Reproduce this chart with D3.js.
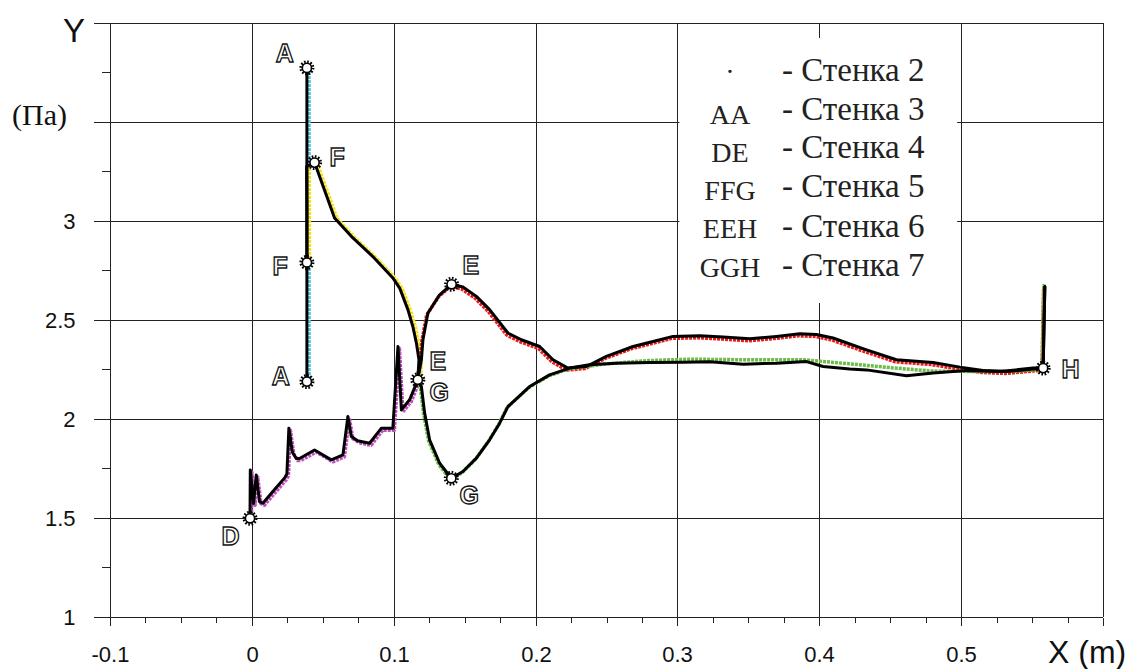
<!DOCTYPE html>
<html>
<head>
<meta charset="utf-8">
<script src="https://cdn.jsdelivr.net/npm/d3@7"></script>
<style>
  body { margin: 0; background: #fff; }
  svg { display: block; }
</style>
</head>
<body>
<svg id="chart" width="1128" height="669"></svg>
<script>
// ---- Axis ticks and labels ----
const xTicks = [-0.1, 0, 0.1, 0.2, 0.3, 0.4, 0.5, 0.6];
const xTickLabels = ["-0.1", "0", "0.1", "0.2", "0.3", "0.4", "0.5", ""];
const yTicks = [1, 1.5, 2, 2.5, 3, 3.5, 4];
const yTickLabels = ["1", "1.5", "2", "2.5", "3", "", ""];

// ---- Pressure along each wall, [x (m), p (Pa)] ----
const wall3 = [[0.0388, 3.771], [0.0388, 2.188]];

const wall4 = [
  [-0.0013, 1.498], [-0.0011, 1.742], [0.0012, 1.574], [0.0031, 1.717],
  [0.0054, 1.582], [0.0078, 1.574], [0.0148, 1.633], [0.0231, 1.702],
  [0.0247, 1.722], [0.0261, 1.953], [0.0285, 1.833], [0.0313, 1.800],
  [0.0336, 1.800], [0.0442, 1.843], [0.0560, 1.793], [0.0642, 1.818],
  [0.0677, 2.012], [0.0701, 1.911], [0.0745, 1.889], [0.0830, 1.877],
  [0.0913, 1.953], [0.0994, 1.953], [0.1030, 2.365], [0.1054, 2.045],
  [0.1112, 2.096], [0.1170, 2.197]
];

const wall5 = [
  [0.0388, 2.789], [0.0388, 3.040], [0.0386, 3.273], [0.0442, 3.293],
  [0.0583, 3.014], [0.0701, 2.921], [0.0851, 2.820], [0.0994, 2.711],
  [0.1042, 2.660], [0.1100, 2.551], [0.1135, 2.466], [0.1160, 2.382],
  [0.1178, 2.298], [0.1170, 2.197]
];

const wall6 = [
  [0.1170, 2.197], [0.1195, 2.298], [0.1206, 2.399], [0.1241, 2.534],
  [0.1324, 2.626], [0.1408, 2.679], [0.1488, 2.665], [0.1583, 2.618],
  [0.1676, 2.551], [0.1805, 2.433], [0.1900, 2.399], [0.2029, 2.365],
  [0.2123, 2.298], [0.2228, 2.256], [0.2358, 2.264], [0.2499, 2.315],
  [0.2687, 2.365], [0.2828, 2.390], [0.2969, 2.416], [0.3157, 2.419],
  [0.3322, 2.413], [0.3510, 2.404], [0.3698, 2.416], [0.3862, 2.429],
  [0.3980, 2.426], [0.4097, 2.408], [0.4333, 2.348], [0.4544, 2.298],
  [0.4802, 2.284], [0.4991, 2.261], [0.5155, 2.244], [0.5320, 2.239],
  [0.5508, 2.251], [0.5578, 2.256], [0.5590, 2.668]
];

const wall7 = [
  [0.1170, 2.197], [0.1195, 2.163], [0.1218, 2.029], [0.1253, 1.894],
  [0.1324, 1.776], [0.1406, 1.700], [0.1488, 1.734], [0.1583, 1.802],
  [0.1676, 1.894], [0.1747, 1.978], [0.1805, 2.062], [0.1958, 2.163],
  [0.2099, 2.222], [0.2240, 2.256], [0.2381, 2.273], [0.2570, 2.281],
  [0.2805, 2.284], [0.3040, 2.286], [0.3228, 2.288], [0.3463, 2.276],
  [0.3698, 2.281], [0.3910, 2.289], [0.4027, 2.264], [0.4215, 2.251],
  [0.4333, 2.247], [0.4615, 2.217], [0.4802, 2.231], [0.5038, 2.244],
  [0.5273, 2.239], [0.5508, 2.256], [0.5578, 2.256], [0.5590, 2.668]
];

// computed wall-7 pressure (green trace), differs from the fitted line downstream
const wall7Computed = [
  [0.1170, 2.197], [0.1195, 2.163], [0.1218, 2.029], [0.1253, 1.894],
  [0.1324, 1.776], [0.1406, 1.700], [0.1488, 1.734], [0.1583, 1.802],
  [0.1676, 1.894], [0.1747, 1.978], [0.1805, 2.062], [0.1958, 2.163],
  [0.2099, 2.222], [0.2240, 2.258], [0.2500, 2.283], [0.2800, 2.300],
  [0.3100, 2.307], [0.3500, 2.304], [0.3900, 2.304], [0.4200, 2.285],
  [0.4500, 2.265], [0.4800, 2.247], [0.5100, 2.245], [0.5400, 2.246],
  [0.5578, 2.256], [0.5590, 2.686]
];

// ---- Wall end points and their letters ----
const markerPoints = [
  [0.0388, 3.771], [0.0442, 3.293], [0.0388, 2.789], [0.0388, 2.188],
  [-0.0013, 1.498], [0.1170, 2.197], [0.1408, 2.679], [0.1406, 1.700],
  [0.5578, 2.256]
];
const pointLetters = ["A", "F", "F", "A", "D", "E", "E", "G", "G", "H"];
const pointLetterAt = [0, 1, 2, 3, 4, 6, 5, 5, 7, 8];

// ---- Legend ----
const legendKeys = ["·", "AA", "DE", "FFG", "EEH", "GGH"];
const legendNames = ["- Стенка 2", "- Стенка 3", "- Стенка 4", "- Стенка 5", "- Стенка 6", "- Стенка 7"];

// ---- Layout ----
const svg = d3.select("#chart");
const x = d3.scaleLinear().domain([-0.1, 0.6]).range([110, 1103]);
const y = d3.scaleLinear().domain([1, 4]).range([617, 22.5]);
const sharp = v => Math.round(v) + 0.5;
const gridColor = "#222";

// grid
const grid = svg.append("g").attr("shape-rendering", "crispEdges");
grid.selectAll("line.v").data(xTicks).join("line")
  .attr("x1", d => sharp(x(d))).attr("x2", d => sharp(x(d)))
  .attr("y1", y(4)).attr("y2", y(1))
  .attr("stroke", gridColor).attr("stroke-width", 1);
grid.selectAll("line.h").data(yTicks).join("line")
  .attr("y1", d => sharp(y(d))).attr("y2", d => sharp(y(d)))
  .attr("x1", x(-0.1)).attr("x2", x(0.6))
  .attr("stroke", gridColor).attr("stroke-width", 1);

// axes: major + minor ticks
const xMinor = d3.range(-0.1, 0.6001, 0.025).filter(v => Math.abs(v * 10 - Math.round(v * 10)) > 1e-6);
const yMinor = d3.range(1, 4.001, 0.25).filter(v => Math.abs(v * 2 - Math.round(v * 2)) > 1e-6);

const axisStyle = g => {
  g.select(".domain").remove();
  g.selectAll("line").attr("stroke", gridColor).attr("shape-rendering", "crispEdges");
};

svg.append("g").attr("transform", `translate(0,${sharp(y(1))})`)
  .call(d3.axisBottom(x).tickValues(xMinor).tickSize(5).tickFormat(""))
  .call(axisStyle);
const xAxis = svg.append("g").attr("transform", `translate(0,${sharp(y(1))})`)
  .call(d3.axisBottom(x).tickValues(xTicks).tickSize(8)
    .tickFormat((d, i) => xTickLabels[i]))
  .call(axisStyle);
xAxis.selectAll("g.tick").attr("transform", d => `translate(${sharp(x(d))},0)`);
xAxis.selectAll("text")
  .attr("y", 44).attr("dy", 0)
  .attr("fill", "#111")
  .style("font-family", "'Liberation Sans', Arial, sans-serif")
  .style("font-size", "22px");

svg.append("g").attr("transform", `translate(${sharp(x(-0.1))},0)`)
  .call(d3.axisLeft(y).tickValues(yMinor).tickSize(9).tickFormat(""))
  .call(axisStyle);
const yAxis = svg.append("g").attr("transform", `translate(${sharp(x(-0.1))},0)`)
  .call(d3.axisLeft(y).tickValues(yTicks).tickSize(17)
    .tickFormat((d, i) => yTickLabels[i]))
  .call(axisStyle);
yAxis.selectAll("g.tick").attr("transform", d => `translate(0,${sharp(y(d))})`);
yAxis.selectAll("text")
  .attr("x", -35).attr("dy", "0.36em")
  .attr("fill", "#111")
  .style("font-family", "'Liberation Sans', Arial, sans-serif")
  .style("font-size", "22px");

// axis titles
svg.append("text").attr("x", 63).attr("y", 42)
  .style("font-family", "'Liberation Sans', Arial, sans-serif").style("font-size", "33px")
  .attr("fill", "#111").text("Y");
svg.append("text").attr("x", 12).attr("y", 125)
  .style("font-family", "'Liberation Serif', 'Times New Roman', serif").style("font-size", "30px")
  .attr("fill", "#111").text("(Па)");
svg.append("text").attr("x", 1048).attr("y", 663)
  .style("font-family", "'Liberation Sans', Arial, sans-serif").style("font-size", "32px")
  .attr("fill", "#111").text("X (m)");

// ---- Curves ----
const line = d3.line().x(d => x(d[0])).y(d => y(d[1]));

const computedTraces = [
  { data: wall3, color: "#5cc8dc", dx: 2.2, dy: 0 },
  { data: wall4, color: "#c050c0", dx: 1.5, dy: 2 },
  { data: wall5, color: "#f2e21c", dx: 2.5, dy: 0.5 },
  { data: wall6, color: "#ec1c1c", dx: -1.2, dy: 2 },
  { data: wall7Computed, color: "#6cbc48", dx: -1, dy: 1.2 }
];
const traces = svg.append("g");
computedTraces.forEach(t => {
  traces.append("path")
    .attr("d", line(t.data))
    .attr("transform", `translate(${t.dx},${t.dy})`)
    .attr("fill", "none")
    .attr("stroke", t.color)
    .attr("stroke-width", 3.5)
    .attr("stroke-dasharray", "3,1")
    .attr("stroke-linejoin", "round");
});

const fitted = svg.append("g");
[wall3, wall4, wall5, wall6, wall7].forEach(data => {
  fitted.append("path")
    .attr("d", line(data))
    .attr("fill", "none")
    .attr("stroke", "#000")
    .attr("stroke-width", 3)
    .attr("stroke-linejoin", "round")
    .attr("stroke-linecap", "round");
});

// ---- End-point markers (sun-shaped) ----
const marks = svg.append("g");
markerPoints.forEach(p => {
  const g = marks.append("g").attr("transform", `translate(${x(p[0])},${y(p[1])})`);
  g.append("circle").attr("r", 6.2).attr("fill", "none")
    .attr("stroke", "#000").attr("stroke-width", 2.6).attr("stroke-dasharray", "1.6,1.6");
  g.append("circle").attr("r", 4.6).attr("fill", "#fff")
    .attr("stroke", "#000").attr("stroke-width", 1.6);
});

// ---- Hollow letters at end points ----
const letterOffsets = [
  { dx: -13, dy: -6, anchor: "end" },
  { dx: 15, dy: 3, anchor: "start" },
  { dx: -19, dy: 13, anchor: "end" },
  { dx: -17, dy: 3.5, anchor: "end" },
  { dx: -10.5, dy: 27, anchor: "end" },
  { dx: 11, dy: -10.5, anchor: "start" },
  { dx: 11.7, dy: -9.3, anchor: "start" },
  { dx: 11.7, dy: 21, anchor: "start" },
  { dx: 8.3, dy: 26, anchor: "start" },
  { dx: 18.4, dy: 10, anchor: "start" }
];
const letters = svg.append("g")
  .style("font-family", "'Liberation Sans', Arial, sans-serif")
  .style("font-size", "25px").style("font-weight", "bold");
pointLetters.forEach((t, i) => {
  const p = markerPoints[pointLetterAt[i]];
  const o = letterOffsets[i];
  letters.append("text")
    .attr("x", x(p[0]) + o.dx).attr("y", y(p[1]) + o.dy)
    .attr("text-anchor", o.anchor)
    .attr("fill", "#fff").attr("stroke", "#111").attr("stroke-width", 1.3)
    .text(t);
});

// ---- Legend box ----
const legend = svg.append("g");
legend.append("rect")
  .attr("x", x(0.3) + 2).attr("y", 38)
  .attr("width", x(0.5) - x(0.3) - 6).attr("height", 265)
  .attr("fill", "#fff");
const keyBaselines = [81, 123.5, 161.5, 200, 238, 276.5];
const nameBaselines = [81, 120, 158.3, 197, 236.5, 275.5];
legend.selectAll("text.key").data(legendKeys).join("text")
  .attr("class", "key")
  .attr("x", 730).attr("y", (d, i) => keyBaselines[i])
  .attr("text-anchor", "middle")
  .style("font-family", "'Liberation Serif', 'Times New Roman', serif")
  .style("font-size", "28px").attr("fill", "#222")
  .text(d => d);
legend.selectAll("text.name").data(legendNames).join("text")
  .attr("class", "name")
  .attr("x", 782).attr("y", (d, i) => nameBaselines[i])
  .style("font-family", "'Liberation Serif', 'Times New Roman', serif")
  .style("font-size", "33px").attr("fill", "#222")
  .text(d => d);
</script>
</body>
</html>
